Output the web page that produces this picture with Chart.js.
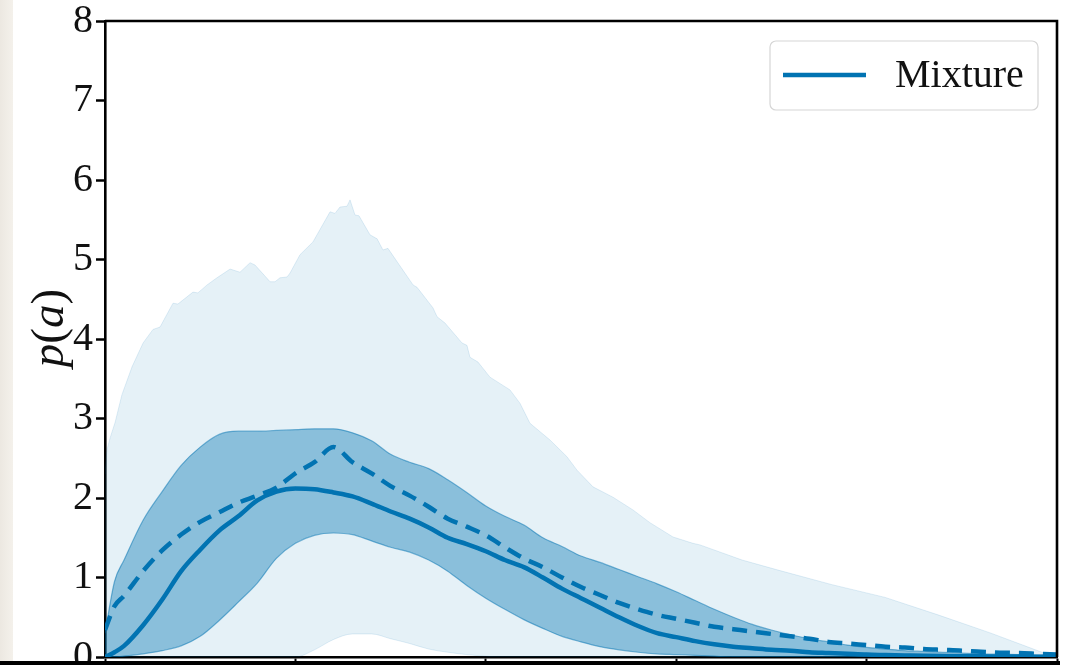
<!DOCTYPE html>
<html>
<head>
<meta charset="utf-8">
<title>p(a)</title>
<script src="https://cdn.jsdelivr.net/npm/chart.js@4.4.0/dist/chart.umd.min.js"></script>
<style>
  html, body { margin: 0; padding: 0; background: #fff; overflow: hidden; }
  #wrap { position: relative; width: 1080px; height: 665px; }
  canvas { position: absolute; left: 0; top: 0; }
  #edge { position: absolute; left: 0; top: 0; width: 13px; height: 665px;
          background: linear-gradient(to right, #ece8e1, #f4f1eb); }
  #base { position: absolute; left: 0; top: 661px; width: 1060px; height: 4px; background: #000; }
</style>
</head>
<body>
<div id="wrap">
  <canvas id="c" width="1080" height="665"></canvas>
  <div id="edge"></div>
  <div id="base"></div>
</div>
<script>
// common grid of a
const gridX = [0, 0.05, 0.1, 0.2, 0.3, 0.4, 0.5, 0.6, 0.7, 0.8, 0.9,
  1.0, 1.1, 1.2, 1.3, 1.4, 1.5, 1.6, 1.7, 1.8, 1.9,
  2.0, 2.1, 2.2, 2.3, 2.4, 2.5, 2.6, 2.7, 2.8, 2.9,
  3.0, 3.1, 3.2, 3.3, 3.4, 3.5, 3.6, 3.7, 3.8, 3.9,
  4.0, 4.1, 4.2, 4.3, 4.4, 4.5, 4.6, 4.7, 4.8, 4.9, 5.0];

// mixture mean density
const meanY = [0.0, 0.06, 0.14, 0.40, 0.72, 1.08, 1.35, 1.59, 1.77, 1.97, 2.08,
  2.12, 2.11, 2.07, 2.02, 1.93, 1.83, 1.74, 1.63, 1.50, 1.42,
  1.33, 1.22, 1.13, 1.00, 0.86, 0.74, 0.62, 0.50, 0.39, 0.30,
  0.25, 0.20, 0.16, 0.13, 0.11, 0.09, 0.08, 0.06, 0.05, 0.04,
  0.03, 0.025, 0.02, 0.015, 0.012, 0.01, 0.008, 0.006, 0.005, 0.004, 0.003];

// reference density (dashed)
const refY = [0.34, 0.64, 0.77, 1.08, 1.34, 1.54, 1.70, 1.82, 1.94, 2.03, 2.13,
  2.31, 2.45, 2.64, 2.45, 2.31, 2.15, 2.03, 1.89, 1.74, 1.64,
  1.53, 1.38, 1.24, 1.13, 1.00, 0.88, 0.78, 0.68, 0.60, 0.53,
  0.48, 0.43, 0.38, 0.35, 0.32, 0.29, 0.26, 0.23, 0.19, 0.17,
  0.15, 0.13, 0.12, 0.10, 0.09, 0.08, 0.065, 0.055, 0.05, 0.04, 0.03];

// inner band (one sigma)
const innerHi = [0.30, 0.95, 1.22, 1.72, 2.08, 2.41, 2.64, 2.80, 2.84, 2.84, 2.85,
  2.86, 2.87, 2.87, 2.82, 2.72, 2.55, 2.45, 2.37, 2.23, 2.07,
  1.90, 1.77, 1.66, 1.50, 1.39, 1.27, 1.19, 1.10, 1.01, 0.92,
  0.82, 0.71, 0.60, 0.50, 0.41, 0.34, 0.28, 0.23, 0.19, 0.15,
  0.12, 0.10, 0.08, 0.07, 0.06, 0.05, 0.04, 0.035, 0.03, 0.025, 0.02];
const innerLo = [0, 0, 0.01, 0.04, 0.08, 0.14, 0.26, 0.46, 0.69, 0.93, 1.24,
  1.43, 1.53, 1.56, 1.54, 1.46, 1.38, 1.32, 1.22, 1.08, 0.90,
  0.74, 0.60, 0.47, 0.36, 0.26, 0.19, 0.13, 0.09, 0.06, 0.04,
  0.03, 0.02, 0.01, 0, 0, 0, 0, 0, 0, 0,
  0, 0, 0, 0, 0, 0, 0, 0, 0, 0, 0];

// outer band, lower edge
const outerLo = [0, 0, 0, 0, 0, 0, 0, 0, 0, 0, 0,
  0, 0.09, 0.22, 0.29, 0.29, 0.23, 0.17, 0.10, 0.06, 0.03,
  0.01, 0, 0, 0, 0, 0, 0, 0, 0, 0,
  0, 0, 0, 0, 0, 0, 0, 0, 0, 0,
  0, 0, 0, 0, 0, 0, 0, 0, 0, 0, 0];

// outer band, upper edge (own sampling)
const outerHiX = [0, 0.01, 0.026, 0.053, 0.089, 0.142, 0.2, 0.252, 0.289, 0.357, 0.383,
  0.462, 0.488, 0.536, 0.588, 0.657, 0.709, 0.762, 0.788, 0.867, 0.893,
  0.919, 0.956, 0.972, 1.024, 1.092, 1.182, 1.208, 1.234, 1.271, 1.287,
  1.313, 1.334, 1.392, 1.429, 1.460, 1.486, 1.618, 1.639, 1.723, 1.744,
  1.786, 1.875, 1.901, 1.917, 1.959, 2.022, 2.127, 2.180, 2.232, 2.337,
  2.426, 2.479, 2.563, 2.668, 2.773, 2.862, 2.983, 3.088, 3.125, 3.346,
  3.540, 3.818, 4.097, 4.375, 4.653, 4.932, 5.0];
const outerHiY = [2.3, 2.6, 2.75, 2.95, 3.3, 3.65, 3.95, 4.12, 4.15, 4.45, 4.44,
  4.59, 4.58, 4.68, 4.77, 4.88, 4.84, 4.96, 4.93, 4.72, 4.72,
  4.77, 4.78, 4.83, 5.06, 5.22, 5.60, 5.58, 5.66, 5.67, 5.75,
  5.56, 5.55, 5.31, 5.26, 5.12, 5.14, 4.68, 4.65, 4.39, 4.28,
  4.20, 3.95, 3.92, 3.77, 3.71, 3.52, 3.36, 3.19, 2.94, 2.73,
  2.52, 2.35, 2.14, 2.01, 1.85, 1.69, 1.51, 1.43, 1.41, 1.22,
  1.09, 0.91, 0.75, 0.53, 0.30, 0.05, 0.01];

const yTicks = [0, 1, 2, 3, 4, 5, 6, 7, 8];

const BLUE = '#0173b2';
const SERIF = '"Liberation Serif", "DejaVu Serif", serif';

const pts = (xs, ys) => xs.map((x, i) => ({ x, y: ys[i] }));

const noPad = s => { s.paddingTop = 0; s.paddingBottom = 0; s.paddingLeft = 0; s.paddingRight = 0; };

// frame on the top and right, legend box, and the y-axis label
const decor = {
  id: 'decor',
  afterDraw(chart) {
    const { ctx, chartArea: a } = chart;
    ctx.save();
    ctx.strokeStyle = '#000';
    ctx.lineWidth = 2.6;
    ctx.beginPath();
    ctx.moveTo(a.left, a.top);
    ctx.lineTo(a.right, a.top);
    ctx.lineTo(a.right, a.bottom);
    ctx.stroke();

    // legend
    const bx = a.right - 287, by = a.top + 20, bw = 268, bh = 69;
    ctx.beginPath();
    ctx.roundRect(bx, by, bw, bh, 6);
    ctx.fillStyle = 'rgba(255,255,255,0.85)';
    ctx.fill();
    ctx.strokeStyle = '#d6d6d6';
    ctx.lineWidth = 1.2;
    ctx.stroke();
    ctx.strokeStyle = BLUE;
    ctx.lineWidth = 4.5;
    ctx.beginPath();
    ctx.moveTo(bx + 13, by + 34);
    ctx.lineTo(bx + 96, by + 34);
    ctx.stroke();
    ctx.fillStyle = '#111';
    ctx.font = '40px ' + SERIF;
    ctx.textBaseline = 'alphabetic';
    ctx.textAlign = 'left';
    ctx.fillText(chart.data.datasets[0].label, bx + 125, by + 46);

    // y-axis label p(a)
    const parts = [['p', 'italic '], ['(', ''], ['a', 'italic '], [')', '']];
    ctx.translate(50, 328);
    ctx.rotate(-Math.PI / 2);
    let total = 0;
    parts.forEach(([t, s]) => { ctx.font = s + '47px ' + SERIF; total += ctx.measureText(t).width; });
    let x = -total / 2;
    parts.forEach(([t, s]) => {
      ctx.font = s + '47px ' + SERIF;
      ctx.fillText(t, x, 13);
      x += ctx.measureText(t).width;
    });
    ctx.restore();
  }
};

new Chart(document.getElementById('c'), {
  type: 'line',
  data: {
    datasets: [
      { label: 'Mixture', data: pts(gridX, meanY), borderColor: BLUE, borderWidth: 4.5,
        pointRadius: 0, fill: false, cubicInterpolationMode: 'monotone', order: 1 },
      { label: 'reference', data: pts(gridX, refY), borderColor: BLUE, borderWidth: 4.5,
        borderDash: [15, 9], pointRadius: 0, fill: false, cubicInterpolationMode: 'monotone', order: 0 },
      { label: 'outer lo', data: pts(gridX, outerLo), borderColor: 'rgba(1,115,178,0.12)', borderWidth: 1,
        pointRadius: 0, fill: false, cubicInterpolationMode: 'monotone', order: 5 },
      { label: 'outer hi', data: pts(outerHiX, outerHiY), borderColor: 'rgba(1,115,178,0.12)', borderWidth: 1,
        pointRadius: 0, fill: 2, backgroundColor: 'rgba(1,115,178,0.10)', tension: 0, order: 5 },
      { label: 'inner lo', data: pts(gridX, innerLo), borderColor: 'rgba(1,115,178,0.5)', borderWidth: 1.2,
        pointRadius: 0, fill: false, cubicInterpolationMode: 'monotone', order: 4 },
      { label: 'inner hi', data: pts(gridX, innerHi), borderColor: 'rgba(1,115,178,0.5)', borderWidth: 1.2,
        pointRadius: 0, fill: 4, backgroundColor: 'rgba(1,115,178,0.40)', cubicInterpolationMode: 'monotone', order: 4 }
    ]
  },
  options: {
    responsive: false,
    animation: false,
    layout: { autoPadding: false, padding: { top: 21, right: 23, bottom: 0, left: 0 } },
    plugins: { legend: { display: false }, tooltip: { enabled: false } },
    scales: {
      x: {
        type: 'linear', min: 0, max: 5,
        ticks: { display: false, stepSize: 1 },
        grid: { drawOnChartArea: false, drawTicks: true, tickLength: 4, tickWidth: 2, tickColor: '#000' },
        border: { display: true, color: '#000', width: 2.6 },
        afterFit(s) { s.height = 8; noPad(s); }
      },
      y: {
        min: 0, max: 8,
        afterBuildTicks(s) { s.ticks = yTicks.map(v => ({ value: v })); },
        ticks: { color: '#111', font: { family: SERIF, size: 40 }, padding: 3 },
        grid: { drawOnChartArea: false, drawTicks: true, tickLength: 9, tickWidth: 2.5, tickColor: '#000' },
        border: { display: true, color: '#000', width: 2.6 },
        afterFit(s) { s.width = 105; noPad(s); }
      }
    }
  },
  plugins: [decor]
});
</script>
</body>
</html>
